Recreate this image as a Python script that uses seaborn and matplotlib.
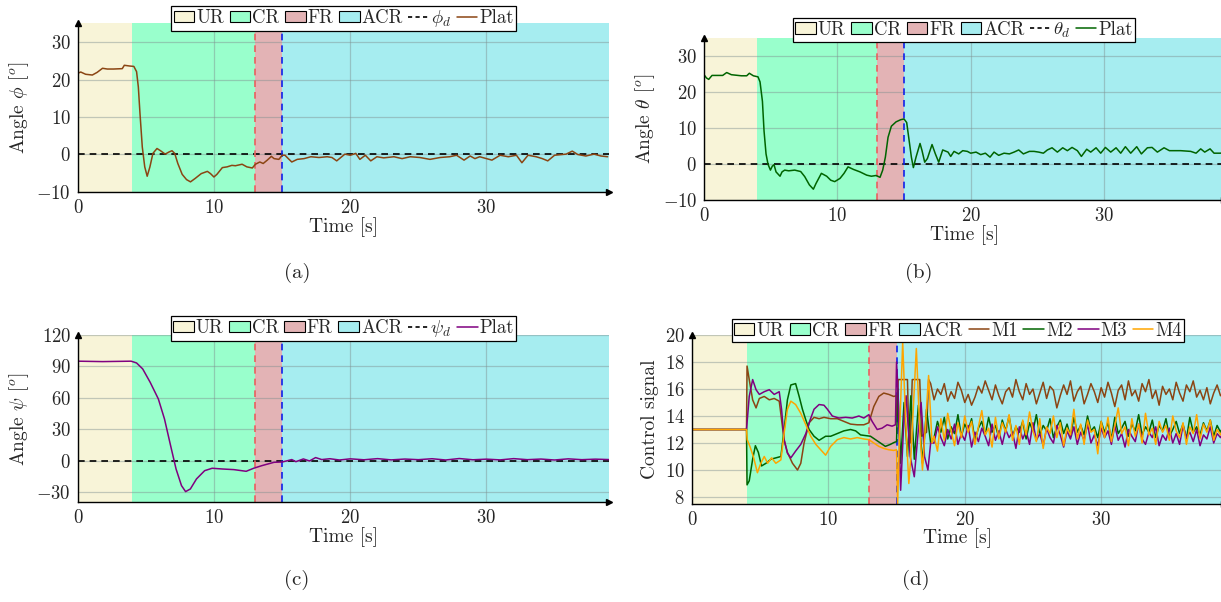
import numpy as np
import pandas as pd
import matplotlib
matplotlib.use("Agg")
import matplotlib.pyplot as plt
import seaborn as sns
from matplotlib.patches import Patch
from matplotlib.lines import Line2D

# ---------------- data ----------------
region_names = ["UR", "CR", "FR", "ACR"]
region_start = [0, 4, 13, 15]
region_end = [4, 13, 15, 39]
region_colors = ["#F8F4D8", "#99FFCC", "#E3B3B5", "#A6EDF0"]

desired_t = [0, 39]
desired_v = [0, 0]

phi_t = [0, 0.2, 0.56, 1.05, 1.4, 1.8, 2.15, 2.6, 3.25, 3.4, 3.8, 4.1, 4.3, 4.43, 4.55, 4.72, 4.9, 5.08,
         5.28, 5.5, 5.8, 6.06, 6.4, 6.7, 6.9, 7.1, 7.33, 7.65, 7.97, 8.26, 8.6, 9.05, 9.5, 9.73, 9.98,
         10.2, 10.6, 10.95, 11.3, 11.56, 12.05, 12.4, 12.8, 13.03, 13.35, 13.6, 13.9, 14.2, 14.4, 14.75,
         15.0, 15.2, 15.5, 15.7, 16.1, 16.6, 17.1, 17.7, 18.3, 18.65, 19.0, 19.6, 20.0, 20.4, 20.7, 21.1,
         21.5, 21.95, 22.45, 23.2, 23.8, 24.4, 25.1, 25.85, 26.6, 27.3, 27.8, 28.35, 28.8, 29.15, 29.5,
         30.4, 31.0, 31.6, 32.2, 32.6, 33.05, 33.65, 34.1, 34.5, 35.0, 35.85, 36.3, 36.7, 37.3, 37.9,
         38.4, 38.9]
phi_v = [21.7, 22.0, 21.4, 21.2, 21.9, 23.0, 22.8, 22.8, 22.9, 23.8, 23.6, 23.5, 22.1, 18.0, 11.0, 2.0,
         -3.3, -5.8, -3.3, 0.3, 1.6, 1.0, 0.1, 0.7, 1.0, 0.3, -2.4, -5.3, -6.7, -7.3, -6.4, -5.1, -4.5,
         -5.1, -6.0, -5.3, -3.5, -3.3, -2.9, -3.0, -2.6, -3.3, -3.6, -2.6, -2.0, -2.4, -1.5, -0.5, -1.1,
         -1.3, -0.2, -0.2, -1.3, -2.0, -1.3, -1.1, -0.6, -0.8, -0.6, -0.8, -1.7, 0.1, -0.2, 0.3, -1.3,
         -0.2, -1.7, -0.6, -0.9, -0.6, -1.1, -0.6, -0.8, -1.3, -0.8, -0.6, -0.2, -1.5, -0.4, -1.1, -0.6,
         -1.5, -0.2, -0.6, -0.2, -2.2, -0.2, -0.6, -1.1, -1.7, -0.2, 0.1, 0.9, 0.0, -0.4, 0.1, -0.4, -0.6]

theta_t = [0, 0.18, 0.35, 0.6, 1.05, 1.4, 1.7, 2.05, 2.8, 3.2, 3.4, 3.7, 4.05, 4.2, 4.38, 4.5, 4.65, 4.8,
           4.98, 5.12, 5.25, 5.4, 5.7, 5.85, 6.05, 6.35, 6.8, 7.25, 7.55, 7.9, 8.2, 8.4, 8.8, 9.2, 9.5,
           9.8, 10.2, 10.5, 10.8, 11.2, 11.7, 12.2, 12.55, 12.9, 13.2, 13.4, 13.6, 13.8, 14.05, 14.4,
           14.75, 15.0, 15.2, 15.35, 15.55, 15.7, 15.9, 16.2, 16.35, 16.55, 16.75, 17.1, 17.35, 17.6,
           17.9, 18.3, 18.5, 18.75, 19.1, 19.4, 19.75, 20.0, 20.4, 20.75, 21.1, 21.45, 21.75, 22.1, 22.5,
           22.9, 23.25, 23.6, 23.95, 24.4, 24.75, 25.1, 25.45, 25.75, 26.1, 26.5, 26.9, 27.25, 27.6,
           28.0, 28.3, 28.7, 29.0, 29.4, 29.75, 30.1, 30.5, 30.9, 31.25, 31.6, 32.0, 32.45, 32.8, 33.25,
           33.6, 34.0, 34.5, 34.9, 35.75, 36.5, 36.9, 37.25, 37.55, 37.95, 38.25, 38.7, 39.0]
theta_v = [24.8, 23.9, 23.5, 24.6, 24.6, 24.6, 25.4, 24.8, 24.5, 24.5, 25.2, 24.5, 24.2, 22.8, 17.4, 9.2,
           2.8, -0.1, -1.7, -0.6, -0.2, -2.2, -3.4, -2.2, -1.7, -1.9, -1.7, -2.1, -3.5, -5.8, -7.0, -5.4,
           -2.6, -3.4, -4.5, -4.9, -4.0, -2.6, -0.8, -1.5, -2.2, -3.1, -3.4, -3.2, -3.7, -1.7, 1.9, 7.4,
           10.5, 11.7, 12.3, 12.5, 11.5, 7.4, 1.9, -1.0, 1.9, 5.7, 3.7, 0.5, 1.5, 5.4, 2.8, 0.5, 3.9, 3.3,
           2.1, 3.5, 2.8, 3.7, 3.5, 3.0, 3.3, 2.6, 3.0, 1.9, 3.3, 2.4, 3.0, 2.8, 3.3, 3.9, 2.8, 3.5, 3.5,
           3.3, 3.0, 3.9, 4.5, 3.3, 4.5, 3.7, 4.6, 3.7, 2.1, 4.1, 3.3, 4.5, 3.0, 4.6, 3.3, 4.5, 3.0, 4.8,
           3.0, 4.8, 2.8, 4.5, 4.6, 3.3, 4.5, 3.7, 3.7, 3.5, 3.0, 4.2, 3.3, 4.2, 3.0, 3.0, 3.1]

psi_t = [0, 1.8, 3.9, 4.3, 4.75, 5.3, 5.9, 6.35, 6.8, 7.2, 7.6, 7.9, 8.25, 8.7, 9.3, 9.85, 10.6, 11.45,
         12.35, 12.9, 13.5, 14.4, 15.0, 15.4, 15.7, 16.0, 16.55, 17.0, 17.45, 17.9, 18.5, 19.2, 20.0,
         21.0, 22.0, 23.0, 24.0, 25.0, 26.0, 27.0, 28.0, 29.0, 30.0, 31.0, 32.0, 33.0, 34.0, 35.0,
         36.0, 37.0, 38.0, 39.0]
psi_v = [95.0, 94.6, 95.0, 93.3, 87.6, 74.8, 58.9, 39.8, 14.3, -8.0, -23.9, -29.6, -27.1, -17.5, -9.6,
         -7.3, -8.0, -8.6, -10.2, -7.3, -4.8, -1.6, -1.3, 0.0, 1.0, -1.0, 1.6, -0.3, 2.9, 1.0, 1.8, 0.6,
         1.7, 0.8, 1.9, 0.7, 1.5, 0.9, 1.8, 0.6, 2.0, 0.8, 1.4, 0.7, 1.9, 0.9, 1.5, 0.6, 1.7, 0.9, 1.4, 1.0]

# control signals (head part: explicit samples; tail part: samples every 0.25 s from 17.75 s)
m1_t = [0, 4.0, 4.04, 4.2, 4.45, 4.7, 4.94, 5.3, 5.67, 6.03, 6.4, 6.57, 6.76, 7.0, 7.37, 7.74, 7.98, 8.22,
        8.59, 8.95, 9.32, 9.68, 10.17, 10.66, 11.14, 11.63, 12.12, 12.6, 12.97, 13.33, 13.7, 14.06, 14.43,
        14.79, 15.0, 15.05, 15.12, 15.8, 15.9, 16.0, 16.15, 16.7, 16.85, 17.2, 17.35, 17.5]
m1_v = [13, 13, 17.7, 16.7, 15.2, 14.6, 15.3, 15.45, 15.2, 15.3, 15.1, 13.7, 12.2, 11.3, 10.5, 10.0, 10.5,
        12.0, 13.5, 13.9, 13.8, 13.9, 13.8, 13.8, 13.6, 13.4, 13.35, 13.35, 13.5, 14.7, 15.45, 15.7, 15.6,
        15.45, 15.5, 14.0, 16.7, 16.7, 12.5, 12.0, 16.7, 16.7, 12.5, 12.8, 16.7, 16.4]
m1_tail = [15.2, 16.0, 15.6, 16.4, 15.1, 15.8, 15.3, 16.5, 15.9, 15.0, 15.6, 14.8, 15.4, 16.2, 15.7, 16.6,
           15.9, 15.2, 16.3, 15.5, 14.9, 15.8, 16.1, 15.4, 16.7, 15.8, 15.2, 16.4, 15.6, 16.0, 14.9, 15.7,
           16.5, 15.3, 16.2, 15.9, 14.6, 15.5, 16.3, 15.6, 16.6, 15.1, 15.8, 16.2, 14.9, 15.6, 16.4, 15.8,
           15.0, 16.1, 15.4, 16.5, 15.7, 14.7, 15.9, 16.3, 15.2, 16.6, 15.5, 15.9, 15.1, 16.4, 15.8, 16.7,
           15.3, 15.9, 14.8, 16.2, 15.6, 16.0, 15.2, 16.5, 15.7, 15.1, 16.3, 15.8, 16.6, 15.4, 15.9, 15.2,
           16.1, 14.9, 15.7, 16.3, 15.5, 15.8]

m2_t = [0, 4.0, 4.04, 4.2, 4.45, 4.65, 4.87, 5.1, 5.43, 5.79, 6.15, 6.52, 6.76, 7.0, 7.25, 7.6, 7.86, 8.1,
        8.35, 8.59, 8.95, 9.32, 9.8, 10.17, 10.66, 11.14, 11.63, 12.0, 12.36, 12.73, 13.09, 13.45, 13.82,
        14.18, 14.55, 14.84, 15.0, 15.1, 15.3, 15.55, 15.8, 16.05, 16.3, 16.6, 16.9, 17.2, 17.5]
m2_v = [13, 13, 8.9, 9.2, 10.8, 11.8, 11.3, 10.3, 10.5, 10.8, 10.9, 11.0, 13.0, 15.2, 16.3, 16.4, 15.45,
        14.5, 13.7, 13.0, 12.5, 12.2, 12.5, 12.5, 12.7, 12.9, 13.0, 12.9, 12.6, 12.55, 12.5, 12.25, 12.0,
        11.75, 11.9, 12.05, 12.1, 16.0, 10.5, 15.0, 11.0, 15.5, 10.8, 14.8, 10.5, 14.5, 12.0]
m2_tail = [12.4, 13.6, 12.8, 13.9, 12.3, 13.2, 12.7, 14.1, 12.5, 13.4, 12.9, 13.8, 12.2, 13.1, 13.6, 12.6,
           13.9, 12.8, 13.3, 12.4, 13.7, 12.9, 14.0, 12.5, 13.2, 12.8, 13.6, 12.3, 13.5, 12.9, 14.1, 12.6,
           13.3, 12.9, 13.8, 12.4, 13.2, 13.7, 12.7, 13.4, 12.5, 13.9, 12.8, 13.3, 12.6, 14.0, 12.9, 13.2,
           12.4, 13.6, 12.8, 13.5, 12.3, 13.9, 12.7, 13.1, 13.6, 12.5, 13.4, 12.9, 14.1, 12.6, 13.2, 12.8,
           13.7, 12.4, 13.3, 12.9, 13.8, 12.5, 13.0, 13.6, 12.7, 13.4, 12.3, 13.9, 12.8, 13.2, 12.6, 13.5,
           12.9, 13.7, 12.5, 13.3, 12.8, 13.4]

m3_t = [0, 4.0, 4.2, 4.45, 4.7, 4.94, 5.3, 5.67, 6.03, 6.4, 6.57, 6.76, 7.0, 7.25, 7.6, 7.98, 8.35, 8.66,
        8.95, 9.32, 9.68, 9.93, 10.29, 10.78, 11.27, 11.75, 12.24, 12.6, 12.97, 13.21, 13.58, 13.94,
        14.31, 14.67, 14.92, 15.0, 15.1, 15.3, 15.55, 15.7, 16.0, 16.3, 16.6, 16.8, 17.05, 17.3, 17.5]
m3_v = [13, 13, 15.45, 16.7, 15.95, 15.6, 15.8, 15.95, 15.6, 15.8, 14.5, 12.25, 11.25, 10.9, 11.4, 11.9,
        12.7, 13.7, 14.5, 14.85, 14.8, 14.5, 14.0, 13.85, 13.9, 13.85, 14.0, 13.85, 14.1, 13.6, 13.0, 13.1,
        13.35, 13.25, 13.35, 18.0, 16.0, 8.5, 14.0, 15.5, 11.0, 9.5, 13.0, 15.0, 11.0, 10.0, 12.0]
m3_tail = [12.0, 13.2, 12.4, 11.8, 13.0, 12.3, 13.4, 11.9, 12.7, 12.2, 13.3, 11.7, 12.8, 12.1, 13.1, 12.5,
           11.8, 13.4, 12.2, 12.9, 11.9, 13.0, 12.4, 12.8, 11.6, 13.2, 12.3, 12.9, 11.9, 13.5, 12.2, 12.7,
           11.8, 13.1, 12.4, 12.0, 13.3, 12.6, 11.7, 12.9, 12.3, 13.2, 11.9, 12.8, 12.2, 13.4, 12.0, 12.6,
           11.8, 13.1, 12.4, 12.9, 11.9, 13.3, 12.2, 12.7, 11.7, 13.0, 12.5, 12.1, 13.4, 12.3, 11.9, 12.8,
           12.4, 13.2, 11.8, 12.6, 12.2, 13.1, 12.0, 12.7, 11.9, 13.3, 12.4, 12.8, 12.1, 13.0, 11.8, 12.6,
           12.3, 13.2, 12.0, 12.7, 12.4, 12.9]

m4_t = [0, 4.0, 4.05, 4.25, 4.5, 4.8, 5.05, 5.3, 5.55, 5.84, 6.15, 6.52, 6.76, 7.0, 7.25, 7.6, 7.98, 8.35,
        8.71, 9.08, 9.44, 9.8, 10.17, 10.66, 11.14, 11.63, 12.12, 12.6, 12.97, 13.33, 13.7, 14.06, 14.43,
        14.79, 15.0, 15.08, 15.2, 15.45, 15.65, 15.9, 16.05, 16.25, 16.45, 16.7, 16.9, 17.1, 17.35, 17.6]
m4_v = [13, 13, 12.25, 11.75, 11.0, 9.8, 10.5, 11.0, 10.5, 10.9, 10.5, 10.75, 12.75, 14.5, 15.1, 14.85,
        14.2, 13.35, 12.5, 11.9, 11.5, 11.1, 11.75, 12.25, 12.4, 12.3, 12.4, 12.3, 12.25, 12.0, 11.75,
        11.6, 11.5, 11.45, 11.5, 7.5, 12.0, 19.5, 14.0, 9.0, 11.0, 15.0, 19.0, 13.0, 10.0, 13.0, 17.0, 12.0]
m4_tail = [12.5, 11.4, 13.8, 12.2, 14.2, 12.9, 11.8, 13.5, 12.4, 14.0, 12.8, 13.6, 11.9, 13.2, 14.4, 12.6,
           13.1, 11.7, 13.9, 12.3, 13.5, 12.8, 14.1, 12.2, 13.3, 11.9, 13.7, 12.6, 14.3, 12.9, 12.1, 13.8,
           11.6, 13.2, 12.7, 14.0, 12.4, 13.5, 11.8, 13.1, 12.6, 14.5, 12.3, 13.4, 11.9, 13.7, 12.8, 13.0,
           11.2, 13.6, 12.4, 13.9, 12.1, 13.3, 14.6, 12.7, 13.2, 11.8, 13.8, 12.5, 13.4, 12.0, 14.2, 12.6,
           13.1, 11.9, 13.6, 12.8, 13.3, 12.2, 14.0, 12.9, 12.4, 13.5, 11.9, 13.2, 12.7, 14.1, 12.3, 13.4,
           12.8, 13.7, 12.2, 13.0, 12.6, 13.3]

motor_names = ["M1", "M2", "M3", "M4"]
motor_colors = ["#8B4513", "#006400", "#800080", "#FFA500"]

x_ticks = [0, 10, 20, 30]
panel_letters = ["(a)", "(b)", "(c)", "(d)"]

# ---------------- style ----------------
sns.set_theme(style="white")
plt.rcParams["font.family"] = ["cmr10", "DejaVu Serif"]
plt.rcParams["mathtext.fontset"] = "cm"
plt.rcParams["axes.formatter.use_mathtext"] = True
plt.rcParams["axes.unicode_minus"] = True
FS_TICK = 13.5
FS_LAB = 14
FS_LEG = 13.5

fig = plt.figure(figsize=(12.21, 6.02), dpi=100)
pos = {
    "a": [0.0639, 0.6811, 0.4349, 0.2802],
    "b": [0.5766, 0.6678, 0.4259, 0.2691],
    "c": [0.0639, 0.1653, 0.4349, 0.2782],
    "d": [0.5667, 0.1632, 0.4357, 0.2803],
}
axes = {k: fig.add_axes(v) for k, v in pos.items()}


def style_axis(ax, ylim, yticks, ylabel):
    for i, (s, e) in enumerate(zip(region_start, region_end)):
        ax.axvspan(s, e, color=region_colors[i], lw=0, zorder=0.5)
    ax.axvline(region_start[2], color="#E8605E", ls=(0, (4, 3)), lw=1.2, zorder=3)
    ax.axvline(region_start[3], color="#1020E8", ls=(0, (4, 3)), lw=1.2, zorder=3)
    ax.set_xlim(0, 39)
    ax.set_ylim(*ylim)
    ax.set_xticks(x_ticks)
    ax.set_yticks(yticks)
    ax.set_axisbelow("line")
    ax.grid(True, color="#7f8f8f", alpha=0.45, lw=0.9)
    for sp in ["top", "right"]:
        ax.spines[sp].set_visible(False)
    for sp in ["left", "bottom"]:
        ax.spines[sp].set_color("black")
        ax.spines[sp].set_linewidth(1.0)
        ax.spines[sp].set_zorder(4)
    ax.tick_params(axis="both", which="both", length=3, width=0.8, color="#888888",
                   direction="inout", labelsize=FS_TICK, pad=3.5)
    ax.plot(1, 0, marker=">", color="black", ms=5, transform=ax.transAxes, clip_on=False, zorder=5)
    ax.plot(0, 1, marker="^", color="black", ms=5, transform=ax.transAxes, clip_on=False, zorder=5)
    ax.set_ylabel(ylabel, fontsize=FS_LAB, labelpad=4)
    ax.set_xlabel("Time [s]", fontsize=FS_LAB, labelpad=0)
    ax.set_facecolor("white")


def region_handles():
    return [Patch(facecolor=c, edgecolor="black", lw=0.8, label=n) for n, c in zip(region_names, region_colors)]


def add_legend(ax, extra, y):
    h = region_handles() + extra
    ax.legend(handles=h, loc="lower center", bbox_to_anchor=(0.5, y), ncol=len(h), fontsize=FS_LEG,
              frameon=True, fancybox=False, framealpha=1, edgecolor="black", borderpad=0.12,
              handlelength=1.1, handleheight=0.55, handletextpad=0.1, columnspacing=0.3,
              borderaxespad=0)
    leg = ax.get_legend()
    leg.get_frame().set_linewidth(0.9)
    leg.set_zorder(10)


angle_panels = [
    ("a", phi_t, phi_v, "#8B4513", r"Angle $\phi$ [$^o$]", r"$\phi_d$", (-10, 35), [-10, 0, 10, 20, 30], 0.952),
    ("b", theta_t, theta_v, "#006400", r"Angle $\theta$ [$^o$]", r"$\theta_d$", (-10, 35), [-10, 0, 10, 20, 30], 0.975),
    ("c", psi_t, psi_v, "#800080", r"Angle $\psi$ [$^o$]", r"$\psi_d$", (-40, 120), [-30, 0, 30, 60, 90, 120], 0.964),
]
for key, t, v, col, ylab, dlab, ylim, yt, ly in angle_panels:
    ax = axes[key]
    style_axis(ax, ylim, yt, ylab)
    sns.lineplot(x=desired_t, y=desired_v, ax=ax, color="black", lw=1.2, linestyle=(0, (4, 3)), zorder=2.6)
    sns.lineplot(x=t, y=v, ax=ax, color=col, lw=1.1, zorder=3)
    extra = [Line2D([], [], color="black", ls=(0, (2.5, 2)), lw=1.2, label=dlab),
             Line2D([], [], color=col, lw=1.1, label="Plat")]
    add_legend(ax, extra, ly)

# control signal panel
rows = []
heads = [(m1_t, m1_v, m1_tail), (m2_t, m2_v, m2_tail), (m3_t, m3_v, m3_tail), (m4_t, m4_v, m4_tail)]
for name, (ht, hv, tail) in zip(motor_names, heads):
    tt = list(ht) + list(np.linspace(17.75, 39, len(tail)))
    vv = list(hv) + list(tail)
    rows.append(pd.DataFrame({"t": tt, "v": vv, "motor": name}))
df_m = pd.concat(rows, ignore_index=True)

ax = axes["d"]
style_axis(ax, (7.5, 20), [8, 10, 12, 14, 16, 18, 20], "Control signal")
sns.lineplot(data=df_m, x="t", y="v", hue="motor", palette=dict(zip(motor_names, motor_colors)),
             ax=ax, lw=1.1, legend=False, zorder=3)
ax.set_xlabel("Time [s]", fontsize=FS_LAB, labelpad=0)
ax.set_ylabel("Control signal", fontsize=FS_LAB, labelpad=4)
extra = [Line2D([], [], color=c, lw=1.1, label=n) for n, c in zip(motor_names, motor_colors)]
add_legend(ax, extra, 0.96)

# captions
cap_pos = [(297, 273), (919, 273), (297, 580), (916, 580)]
for letter, (px, py) in zip(panel_letters, cap_pos):
    fig.text(px / 1221, 1 - py / 602, letter, ha="center", va="center", fontsize=15)

fig.savefig("out.png", dpi=100)
